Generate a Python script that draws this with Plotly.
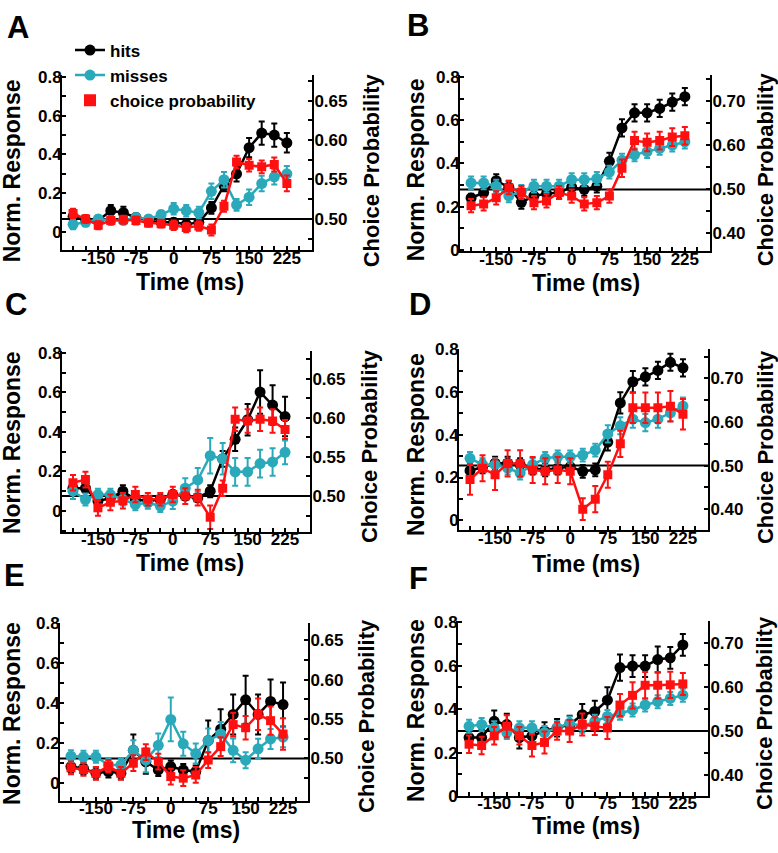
import plotly.graph_objects as go

# ---------------- data ----------------
time_ms = [-200, -175, -150, -125, -100, -75, -50, -25, 0, 25, 50, 75, 100, 125, 150, 175, 200, 225]
x_tick_vals = [-200, -175, -150, -125, -100, -75, -50, -25, 0, 25, 50, 75, 100, 125, 150, 175, 200, 225, 250]
x_tick_text = ["", "", "-150", "", "", "-75", "", "", "0", "", "", "75", "", "", "150", "", "", "225", ""]
panel_labels = ["A", "B", "C", "D", "E", "F"]
series_names = ["hits", "misses", "choice probability"]

# Panel A
A_hits = [0.08, 0.06, 0.06, 0.11, 0.10, 0.075, 0.06, 0.05, 0.05, 0.04, 0.05, 0.125, 0.24, 0.30, 0.435, 0.51, 0.50, 0.46]
A_hits_err = [0.02, 0.02, 0.02, 0.03, 0.03, 0.02, 0.02, 0.02, 0.02, 0.02, 0.02, 0.03, 0.03, 0.04, 0.05, 0.06, 0.06, 0.05]
A_miss = [0.04, 0.05, 0.067, 0.06, 0.06, 0.075, 0.067, 0.09, 0.12, 0.11, 0.10, 0.21, 0.27, 0.14, 0.18, 0.25, 0.285, 0.30]
A_miss_err = [0.025, 0.02, 0.02, 0.02, 0.02, 0.02, 0.02, 0.02, 0.03, 0.03, 0.03, 0.04, 0.04, 0.03, 0.04, 0.04, 0.04, 0.04]
A_cp = [0.507, 0.500, 0.492, 0.498, 0.499, 0.498, 0.495, 0.494, 0.492, 0.489, 0.491, 0.486, 0.516, 0.572, 0.568, 0.566, 0.569, 0.545]
A_cp_err = [0.006, 0.005, 0.005, 0.005, 0.005, 0.005, 0.005, 0.005, 0.006, 0.006, 0.006, 0.007, 0.007, 0.008, 0.008, 0.008, 0.009, 0.010]

# Panel B
B_hits = [0.24, 0.265, 0.32, 0.29, 0.22, 0.25, 0.26, 0.265, 0.29, 0.28, 0.295, 0.41, 0.565, 0.635, 0.635, 0.655, 0.685, 0.71]
B_hits_err = [0.02, 0.02, 0.03, 0.03, 0.03, 0.03, 0.03, 0.03, 0.03, 0.03, 0.03, 0.04, 0.04, 0.04, 0.04, 0.04, 0.04, 0.04]
B_miss = [0.31, 0.31, 0.295, 0.25, 0.27, 0.295, 0.295, 0.295, 0.325, 0.325, 0.33, 0.36, 0.415, 0.44, 0.455, 0.47, 0.485, 0.50]
B_miss_err = [0.03, 0.03, 0.03, 0.03, 0.03, 0.03, 0.03, 0.03, 0.03, 0.03, 0.03, 0.03, 0.03, 0.03, 0.03, 0.03, 0.03, 0.03]
B_cp = [0.463, 0.467, 0.481, 0.504, 0.493, 0.470, 0.474, 0.493, 0.485, 0.467, 0.470, 0.485, 0.548, 0.611, 0.607, 0.611, 0.619, 0.622]
B_cp_err = [0.015, 0.015, 0.015, 0.015, 0.015, 0.015, 0.015, 0.015, 0.015, 0.015, 0.015, 0.015, 0.02, 0.02, 0.02, 0.02, 0.02, 0.02]

# Panel C
C_hits = [0.115, 0.115, 0.05, 0.065, 0.10, 0.058, 0.05, 0.058, 0.083, 0.075, 0.066, 0.10, 0.264, 0.363, 0.462, 0.602, 0.536, 0.478]
C_hits_err = [0.02, 0.02, 0.02, 0.02, 0.03, 0.02, 0.02, 0.02, 0.02, 0.02, 0.02, 0.03, 0.04, 0.06, 0.08, 0.11, 0.10, 0.10]
C_miss = [0.10, 0.058, 0.083, 0.083, 0.058, 0.033, 0.041, 0.025, 0.05, 0.115, 0.157, 0.28, 0.264, 0.198, 0.198, 0.24, 0.248, 0.297]
C_miss_err = [0.04, 0.03, 0.03, 0.03, 0.03, 0.03, 0.03, 0.03, 0.04, 0.05, 0.06, 0.09, 0.08, 0.07, 0.07, 0.07, 0.07, 0.06]
C_cp = [0.517, 0.521, 0.485, 0.492, 0.494, 0.502, 0.496, 0.496, 0.502, 0.500, 0.498, 0.473, 0.510, 0.598, 0.596, 0.598, 0.596, 0.585]
C_cp_err = [0.010, 0.010, 0.010, 0.010, 0.010, 0.010, 0.008, 0.008, 0.010, 0.010, 0.010, 0.015, 0.010, 0.015, 0.015, 0.015, 0.015, 0.012]

# Panel D
D_hits = [0.232, 0.25, 0.267, 0.267, 0.26, 0.244, 0.236, 0.244, 0.25, 0.229, 0.236, 0.366, 0.549, 0.648, 0.671, 0.701, 0.739, 0.713]
D_hits_err = [0.03, 0.03, 0.03, 0.03, 0.03, 0.03, 0.03, 0.03, 0.03, 0.03, 0.03, 0.04, 0.05, 0.05, 0.04, 0.04, 0.04, 0.04]
D_miss = [0.29, 0.26, 0.26, 0.244, 0.221, 0.26, 0.29, 0.297, 0.297, 0.305, 0.328, 0.404, 0.442, 0.473, 0.457, 0.473, 0.503, 0.534]
D_miss_err = [0.03, 0.03, 0.03, 0.03, 0.03, 0.03, 0.03, 0.03, 0.03, 0.03, 0.03, 0.04, 0.04, 0.04, 0.04, 0.04, 0.04, 0.04]
D_cp = [0.468, 0.494, 0.479, 0.505, 0.505, 0.490, 0.487, 0.490, 0.487, 0.400, 0.423, 0.479, 0.550, 0.633, 0.633, 0.633, 0.636, 0.618]
D_cp_err = [0.035, 0.03, 0.035, 0.03, 0.03, 0.03, 0.03, 0.03, 0.03, 0.025, 0.03, 0.03, 0.03, 0.035, 0.035, 0.035, 0.035, 0.035]

# Panel E
E_hits = [0.082, 0.073, 0.049, 0.057, 0.049, 0.163, 0.106, 0.065, 0.082, 0.065, 0.057, 0.212, 0.269, 0.343, 0.416, 0.343, 0.408, 0.392]
E_hits_err = [0.03, 0.03, 0.03, 0.03, 0.03, 0.08, 0.06, 0.03, 0.03, 0.03, 0.03, 0.10, 0.10, 0.10, 0.12, 0.10, 0.11, 0.11]
E_miss = [0.134, 0.131, 0.131, 0.09, 0.09, 0.163, 0.114, 0.188, 0.318, 0.196, 0.147, 0.212, 0.245, 0.163, 0.114, 0.171, 0.22, 0.229]
E_miss_err = [0.03, 0.03, 0.03, 0.03, 0.03, 0.05, 0.06, 0.06, 0.11, 0.06, 0.05, 0.06, 0.06, 0.06, 0.04, 0.05, 0.05, 0.05]
E_cp = [0.488, 0.486, 0.481, 0.490, 0.481, 0.494, 0.508, 0.496, 0.477, 0.475, 0.479, 0.498, 0.515, 0.543, 0.539, 0.556, 0.548, 0.531]
E_cp_err = [0.008, 0.008, 0.008, 0.008, 0.008, 0.01, 0.01, 0.01, 0.01, 0.01, 0.01, 0.01, 0.012, 0.015, 0.015, 0.02, 0.018, 0.02]

# Panel F
F_hits = [0.269, 0.269, 0.344, 0.329, 0.269, 0.277, 0.299, 0.314, 0.329, 0.374, 0.389, 0.441, 0.591, 0.598, 0.598, 0.628, 0.636, 0.695]
F_hits_err = [0.03, 0.04, 0.05, 0.05, 0.05, 0.04, 0.04, 0.04, 0.04, 0.05, 0.05, 0.06, 0.06, 0.05, 0.05, 0.06, 0.05, 0.05]
F_miss = [0.321, 0.329, 0.314, 0.292, 0.314, 0.314, 0.292, 0.314, 0.336, 0.321, 0.344, 0.366, 0.381, 0.396, 0.419, 0.434, 0.449, 0.464]
F_miss_err = [0.03, 0.03, 0.03, 0.03, 0.03, 0.03, 0.03, 0.03, 0.03, 0.03, 0.03, 0.03, 0.03, 0.03, 0.03, 0.03, 0.03, 0.03]
F_cp = [0.470, 0.467, 0.489, 0.511, 0.489, 0.467, 0.474, 0.500, 0.500, 0.515, 0.511, 0.507, 0.559, 0.581, 0.604, 0.604, 0.605, 0.607]
F_cp_err = [0.02, 0.02, 0.02, 0.025, 0.02, 0.025, 0.025, 0.02, 0.025, 0.025, 0.02, 0.025, 0.025, 0.03, 0.03, 0.03, 0.03, 0.025]

# left-axis ticks
left_vals_neg = [-0.1, 0, 0.1, 0.2, 0.3, 0.4, 0.5, 0.6, 0.7, 0.8]
left_text_neg = ["", "0", "", "0.2", "", "0.4", "", "0.6", "", "0.8"]
left_vals_pos = [0, 0.1, 0.2, 0.3, 0.4, 0.5, 0.6, 0.7, 0.8]
left_text_pos = ["0", "", "0.2", "", "0.4", "", "0.6", "", "0.8"]
# right-axis ticks
right_vals_fine = [0.475, 0.5, 0.525, 0.55, 0.575, 0.6, 0.625, 0.65, 0.675]
right_text_fine = ["", "0.50", "", "0.55", "", "0.60", "", "0.65", ""]
right_vals_wide = [0.40, 0.45, 0.5, 0.55, 0.6, 0.65, 0.7, 0.75]
right_text_wide = ["0.40", "", "0.50", "", "0.60", "", "0.70", ""]

panels_data = [
    (A_hits, A_hits_err, A_miss, A_miss_err, A_cp, A_cp_err),
    (B_hits, B_hits_err, B_miss, B_miss_err, B_cp, B_cp_err),
    (C_hits, C_hits_err, C_miss, C_miss_err, C_cp, C_cp_err),
    (D_hits, D_hits_err, D_miss, D_miss_err, D_cp, D_cp_err),
    (E_hits, E_hits_err, E_miss, E_miss_err, E_cp, E_cp_err),
    (F_hits, F_hits_err, F_miss, F_miss_err, F_cp, F_cp_err),
]

# ---------------- layout geometry (pixels) ----------------
W, H = 778, 853
boxes = [
    (62, 312, 67, 247),
    (460, 710, 68, 248),
    (62, 310, 350, 535),
    (459, 708, 348, 533),
    (60, 308, 628, 810),
    (458, 708, 626, 805),
]
left_ranges = [(-0.095, 0.812), (-0.008, 0.808), (-0.107, 0.809), (-0.046, 0.80), (-0.090, 0.80), (0.0, 0.805)]
right_ranges = [(0.460, 0.683), (0.359, 0.759), (0.454, 0.685), (0.352, 0.767), (0.446, 0.672), (0.352, 0.750)]
fine_right = [True, False, True, False, True, False]
neg_left = [True, False, True, True, True, False]
x_range = [-222, 275]

letter_pos = [(5, 19), (405, 17), (3, 302), (407, 302), (2, 579), (407, 582)]
left_title_pos = [(12, 166), (416, 164), (12, 444), (416, 445), (12, 721), (416, 717)]
right_title_pos = [(371, 165), (765, 164), (369, 447), (765, 448), (367, 723), (765, 720)]
time_title_pos = [(190, 279), (586, 280), (190, 567), (586, 568), (186, 840), (586, 836)]

BLACK = "#000000"
CYAN = "#2AA9BA"
RED = "#FF1010"
FONT = "Liberation Sans, Arial, sans-serif"


def px_x(v):
    return v / W


def px_y(v):
    return 1 - v / H


fig = go.Figure()
layout = dict(
    width=W, height=H, margin=dict(l=0, r=0, t=0, b=0),
    plot_bgcolor="white", paper_bgcolor="white",
    font=dict(family=FONT, color="black", size=17, weight="bold"),
    showlegend=True,
    legend=dict(x=px_x(70), y=px_y(24), xanchor="left", yanchor="top",
                bgcolor="rgba(0,0,0,0)", font=dict(size=17, family=FONT, weight="bold"),
                itemwidth=30, tracegroupgap=0),
)
shapes = []
annotations = []

tick_font = dict(family=FONT, size=17, color="black", weight="bold")

for i in range(6):
    xs = "" if i == 0 else str(i + 1)
    yl = str(2 * i + 1) if i > 0 else ""
    yr = str(2 * i + 2)
    xref = "x" + xs
    ylref = "y" + yl
    yrref = "y" + yr
    x0, x1, t0, t1 = boxes[i]
    common = dict(showline=True, linecolor="black", linewidth=2, ticks="inside",
                  ticklen=4, tickwidth=2, tickcolor="black", showgrid=False,
                  zeroline=False, tickfont=tick_font)
    layout["xaxis" + xs] = dict(domain=[px_x(x0), px_x(x1)], range=x_range, anchor=ylref,
                                tickmode="array", tickvals=x_tick_vals, ticktext=x_tick_text,
                                ticklabelstandoff=-9, **common)
    if neg_left[i]:
        lv, lt = left_vals_neg, left_text_neg
    else:
        lv, lt = left_vals_pos, left_text_pos
    layout["yaxis" + yl] = dict(domain=[px_y(t1), px_y(t0)], range=list(left_ranges[i]),
                                anchor=xref, side="left", tickmode="array",
                                tickvals=lv, ticktext=lt, ticklabelstandoff=-5, **common)
    if fine_right[i]:
        rv, rt = right_vals_fine, right_text_fine
    else:
        rv, rt = right_vals_wide, right_text_wide
    layout["yaxis" + yr] = dict(range=list(right_ranges[i]), overlaying=ylref, anchor=xref,
                                side="right", tickmode="array", tickvals=rv, ticktext=rt,
                                ticklabelstandoff=-3, **common)

    hits, hits_err, miss, miss_err, cp, cp_err = panels_data[i]
    fig.add_trace(go.Scatter(
        x=time_ms, y=hits, xaxis=xref, yaxis=ylref, mode="lines+markers",
        line=dict(color=BLACK, width=2.5), marker=dict(color=BLACK, size=11, symbol="circle"),
        error_y=dict(type="data", array=hits_err, color=BLACK, thickness=2, width=3),
        showlegend=False, name=series_names[0]))
    fig.add_trace(go.Scatter(
        x=time_ms, y=miss, xaxis=xref, yaxis=ylref, mode="lines+markers",
        line=dict(color=CYAN, width=2.5), marker=dict(color=CYAN, size=11, symbol="circle"),
        error_y=dict(type="data", array=miss_err, color=CYAN, thickness=2, width=3),
        showlegend=False, name=series_names[1]))
    fig.add_trace(go.Scatter(
        x=time_ms, y=cp, xaxis=xref, yaxis=yrref, mode="lines+markers",
        line=dict(color=RED, width=2.5), marker=dict(color=RED, size=9, symbol="square"),
        error_y=dict(type="data", array=cp_err, color=RED, thickness=2, width=3),
        showlegend=False, name=series_names[2]))

    shapes.append(dict(type="line", xref=xref + " domain", x0=0, x1=1, yref=yrref,
                       y0=0.5, y1=0.5, line=dict(color="black", width=2), layer="below"))

    lx, ly = letter_pos[i]
    annotations.append(dict(text=panel_labels[i], xref="paper", yref="paper", x=px_x(lx), y=px_y(ly),
                            xanchor="left", yanchor="middle", showarrow=False,
                            font=dict(family=FONT, size=31, color="black", weight="bold")))
    tx, ty = left_title_pos[i]
    annotations.append(dict(text="Norm. Response", xref="paper", yref="paper", x=px_x(tx), y=px_y(ty),
                            xanchor="center", yanchor="middle", textangle=-90, showarrow=False,
                            font=dict(family=FONT, size=23, color="black", weight="bold")))
    tx, ty = right_title_pos[i]
    annotations.append(dict(text="Choice Probability", xref="paper", yref="paper", x=px_x(tx), y=px_y(ty),
                            xanchor="center", yanchor="middle", textangle=-90, showarrow=False,
                            font=dict(family=FONT, size=22, color="black", weight="bold")))
    tx, ty = time_title_pos[i]
    annotations.append(dict(text="Time (ms)", xref="paper", yref="paper", x=px_x(tx), y=px_y(ty),
                            xanchor="center", yanchor="middle", showarrow=False,
                            font=dict(family=FONT, size=23, color="black", weight="bold")))

# legend entries (panel A)
fig.add_trace(go.Scatter(x=[None], y=[None], mode="lines+markers", name=series_names[0],
                         line=dict(color=BLACK, width=2.5), marker=dict(color=BLACK, size=11)))
fig.add_trace(go.Scatter(x=[None], y=[None], mode="lines+markers", name=series_names[1],
                         line=dict(color=CYAN, width=2.5), marker=dict(color=CYAN, size=11)))
fig.add_trace(go.Scatter(x=[None], y=[None], mode="markers", name=series_names[2],
                         marker=dict(color=RED, size=12, symbol="square")))

layout["shapes"] = shapes
layout["annotations"] = annotations
fig.update_layout(**layout)

fig.write_html("out.html", config={"displayModeBar": False},
               post_script="document.body.style.margin='0';")
